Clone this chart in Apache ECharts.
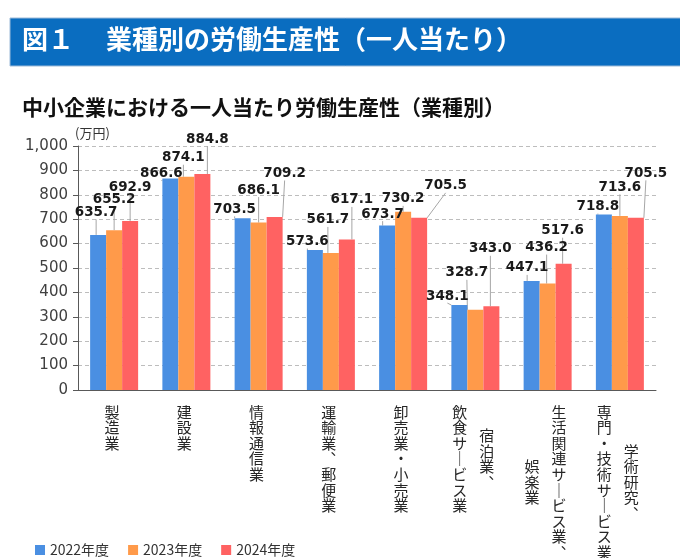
<!DOCTYPE html>
<html>
<head>
<meta charset="utf-8">
<script src="https://cdn.jsdelivr.net/npm/echarts@6/dist/echarts.min.js"></script>
<style>
  html, body { margin: 0; padding: 0; background: #fff; }
  #chart { width: 680px; height: 558px; }
</style>
</head>
<body>
<div id="chart"></div>
<script>
// data
var categories = ['製造業', '建設業', '情報通信業', '運輸業、郵便業', '卸売業・小売業',
    '宿泊業、飲食サービス業', '生活関連サービス業、娯楽業', '学術研究、専門・技術サービス業'];
var seriesNames = ['2022年度', '2023年度', '2024年度'];
var fy2022 = [635.7, 866.6, 703.5, 573.6, 673.7, 348.1, 447.1, 718.8];
var fy2023 = [655.2, 874.1, 686.1, 561.7, 730.2, 328.7, 436.2, 713.6];
var fy2024 = [692.9, 884.8, 709.2, 617.1, 705.5, 343.0, 517.6, 705.5];

// label nudges (dx, dy) so the value labels sit like in the original
var labelShift = [
    [[-2, -10.5], [-9, 7], [-8, 3], [-7.5, 3.5], [-4.5, 0.5], [-12, 3], [-4.5, -1], [-6, 4]],
    [[0, -18.5], [-3, -7], [0, -20.5], [-3, -21], [0, -1], [-8.5, -25], [-1, -24], [0, -16.5]],
    [[0, -21.5], [5, -23], [10, -31.5], [5, -27.5], [26.5, -20], [-1, -45.5], [-1, -21], [10, -32.5]]
];
var colors = ['#4A8FE2', '#FF9A4A', '#FF6262'];

function verticalChar(c) {
    if (c === 'ー') return '｜';
    if (c === '、') return '︑';
    return c;
}

// Japanese vertical writing: columns right to left, half-row steps for centering
function verticalLabel(name) {
    var cols;
    var cut = name.indexOf('、');
    if (name.length > 8 && cut >= 0) {
        cols = [name.slice(0, cut + 1), name.slice(cut + 1)];
    } else {
        cols = [name];
    }
    var n = Math.max.apply(null, cols.map(function (c) { return c.length; }));
    var lines = [];
    for (var i = 0; i < n * 2; i++) {
        var cells = cols.map(function (col) {
            var k = i - (n - col.length);
            if (k >= 0 && k % 2 === 0 && k / 2 < col.length) return verticalChar(col[k / 2]);
            return '\u3000';
        });
        if (cells.length === 2) lines.push('{c|' + cells[1] + '}{c|' + cells[0] + '}');
        else lines.push('{c|' + cells[0] + '}');
    }
    return lines.join('\n');
}

function makeSeries(idx, data) {
    return {
        name: seriesNames[idx],
        type: 'bar',
        barWidth: 16,
        barGap: '0%',
        itemStyle: { color: colors[idx] },
        label: {
            show: true,
            position: 'top',
            distance: 5,
            fontFamily: 'DejaVu Sans',
            fontWeight: 'bold',
            fontSize: 13.5,
            color: '#1a1a1a',
            formatter: function (p) { return p.value.toFixed(1); }
        },
        labelLine: {
            show: true,
            lineStyle: { color: '#a6a6a6', width: 1 }
        },
        labelLayout: function (p) {
            var s = labelShift[idx][p.dataIndex];
            return { dx: s[0], dy: s[1] };
        },
        data: data
    };
}

var myChart = echarts.init(document.getElementById('chart'));
myChart.setOption({
    animation: false,
    color: colors,
    graphic: [{
        type: 'rect',
        z: -1,
        shape: { x: 10, y: 18, width: 680, height: 48 },
        style: { fill: '#0A6DC0', stroke: '#9dbbd8', lineWidth: 1 }
    }],
    title: [{
        text: '図１　 業種別の労働生産性（一人当たり）',
        left: 22,
        top: 26,
        padding: 0,
        textStyle: { color: '#fff', fontSize: 26, fontWeight: 'bold', fontFamily: 'Noto Sans CJK JP' }
    }, {
        text: '中小企業における一人当たり労働生産性（業種別）',
        left: 22,
        top: 97,
        padding: 0,
        textStyle: { color: '#111', fontSize: 21, fontWeight: 'bold', fontFamily: 'Noto Sans CJK JP' }
    }],
    legend: {
        data: seriesNames,
        left: 30,
        top: 538,
        icon: 'rect',
        itemWidth: 10,
        itemHeight: 10,
        itemGap: 19,
        textStyle: { fontSize: 14, color: '#333', fontFamily: 'Noto Sans CJK JP' }
    },
    grid: { left: 78, right: 24, top: 146, bottom: 168, outerBoundsMode: 'none' },
    xAxis: {
        type: 'category',
        data: categories,
        axisLine: { lineStyle: { color: '#595959' } },
        axisTick: { length: 5, lineStyle: { color: '#595959' } },
        axisLabel: {
            interval: 0,
            margin: 18,
            padding: [0, 4, 0, 0],
            formatter: verticalLabel,
            rich: {
                c: {
                    width: 27,
                    align: 'center',
                    fontSize: 15,
                    lineHeight: 7.8,
                    fontFamily: 'Noto Sans CJK JP',
                    color: '#262626'
                }
            }
        }
    },
    yAxis: {
        type: 'value',
        min: 0,
        max: 1000,
        interval: 100,
        name: '(万円)',
        nameLocation: 'end',
        nameGap: 6,
        nameTextStyle: { align: 'left', padding: [0, 0, 0, -3], fontSize: 13, color: '#333', fontFamily: 'Noto Sans CJK JP' },
        axisLine: { show: true, lineStyle: { color: '#595959' } },
        axisTick: { show: true, length: 5, lineStyle: { color: '#595959' } },
        axisLabel: {
            margin: 10,
            fontFamily: 'DejaVu Sans',
            fontSize: 15,
            color: '#404040',
            formatter: function (v) { return v.toLocaleString('en-US'); }
        },
        splitLine: { lineStyle: { type: [4, 3], color: '#bdbdbd' } }
    },
    series: [
        makeSeries(0, fy2022),
        makeSeries(1, fy2023),
        makeSeries(2, fy2024)
    ]
});
</script>
</body>
</html>
